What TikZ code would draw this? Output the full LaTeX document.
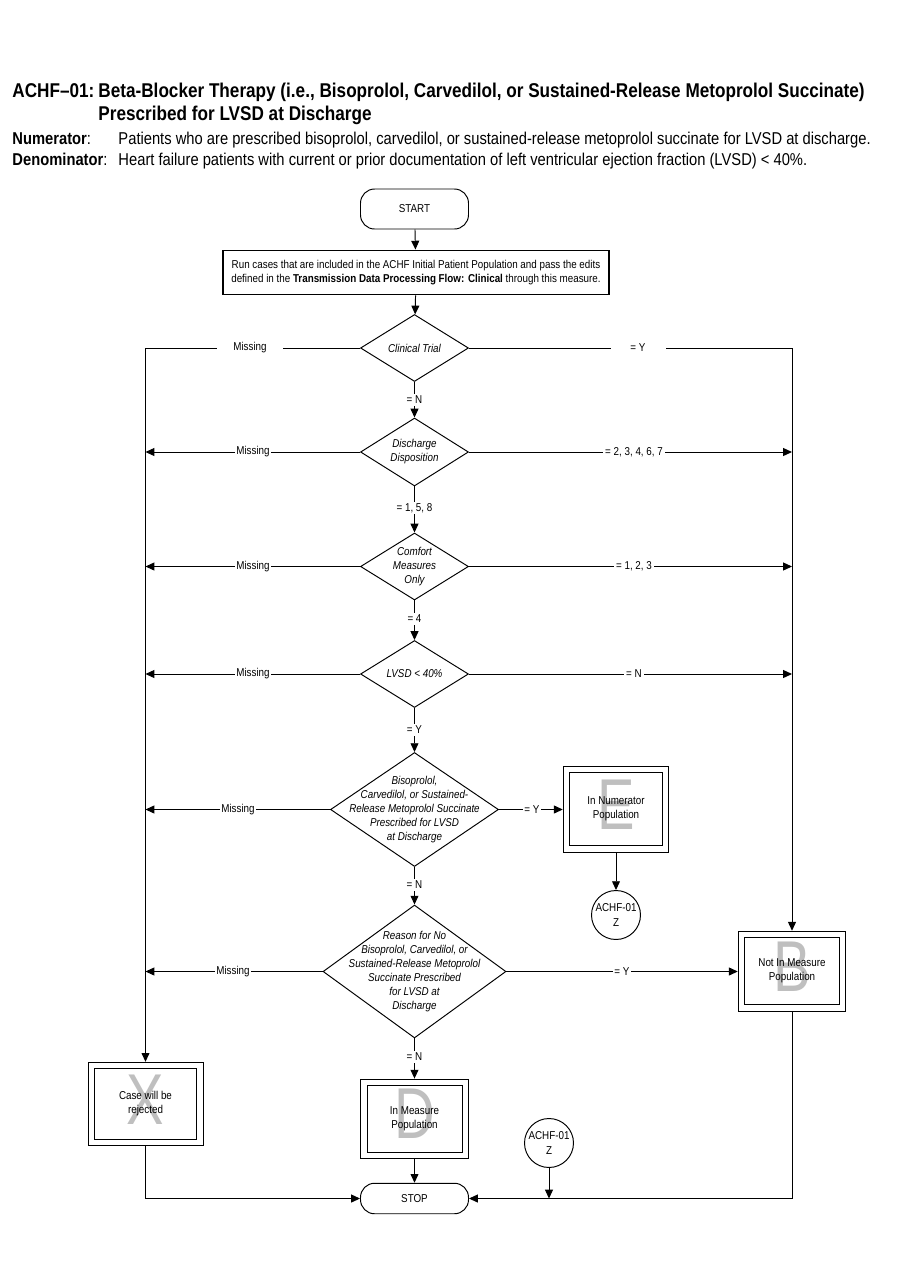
\documentclass[tikz,border=0pt]{standalone}
\usepackage{fontspec}
\setmainfont{Liberation Sans}[FakeStretch=0.86]
\newfontfamily\ghostfont{Liberation Sans}[FakeStretch=0.78]
\usetikzlibrary{arrows.meta,shapes.geometric}
\newcommand\dfont{\fontsize{6.5}{8}\selectfont}
\tikzset{
    >={Stealth[length=5pt,width=4.5pt,inset=0pt]},
    terminal/.style={draw,rounded corners=8pt,minimum width=2.16cm,minimum height=#1,inner sep=0pt,font=\dfont},
    process/.style={draw,line width=1.1pt,minimum width=7.72cm,minimum height=0.88cm,inner sep=0pt,align=center,font=\dfont},
    decision/.style 2 args={diamond,draw,minimum width=#1,minimum height=#2,inner sep=0pt},
    dtext/.style={align=center,inner sep=0pt,font=\dfont\itshape},
    result/.style 2 args={draw,minimum width=#1,minimum height=#2,inner sep=0pt,align=center,font=\dfont,
      path picture={\draw ([shift={(0.13cm,-0.13cm)}]path picture bounding box.north west) rectangle ([shift={(-0.13cm,0.13cm)}]path picture bounding box.south east);}},
    offpage/.style={circle,draw,minimum size=0.98cm,inner sep=0pt,align=center,font=\dfont},
    ghost/.style={text=black!25,inner sep=0pt,font=\ghostfont\fontsize{41}{41}\selectfont},
    lbl/.style={fill=white,inner xsep=1pt,inner ysep=1pt,font=\dfont},
    head/.style={anchor=base west,inner sep=0pt,font=\fontsize{11.35}{13}\selectfont\bfseries},
    defn/.style={anchor=base west,inner sep=0pt,font=\fontsize{9.75}{11}\selectfont}
}

\begin{document}
\begin{tikzpicture}[x=0.02cm,y=-0.02cm,line width=0.55pt]
  \useasboundingbox (0,0) rectangle (900,1286);

  % heading
  \node[head] (hcode)   at (12,97)   {ACHF–01:};
  \node[head] (htitle)  at (98,97)   {Beta-Blocker Therapy (i.e., Bisoprolol, Carvedilol, or Sustained-Release Metoprolol Succinate)};
  \node[head] (htitleb) at (98,120)  {Prescribed for LVSD at Discharge};
  \node[defn] (numlbl)  at (12,144)  {\textbf{Numerator}:};
  \node[defn] (numtxt)  at (118,144) {Patients who are prescribed bisoprolol, carvedilol, or sustained-release metoprolol succinate for LVSD at discharge.};
  \node[defn] (denlbl)  at (12,165)  {\textbf{Denominator}:};
  \node[defn] (dentxt)  at (118,165) {Heart failure patients with current or prior documentation of left ventricular ejection fraction (LVSD) < 40\%.};

  % main column
  \node[terminal=0.8cm] (start) at (414.5,209) {START};
  \node[process] (proc) at (416,272.5) {Run cases that are included in the ACHF Initial Patient Population and pass the edits\\defined in the \textbf{Transmission Data Processing Flow: Clinical} through this measure.} edge[<-] (start);
  \node[decision={2.16cm}{1.34cm},label={[dtext]center:Clinical Trial}] (ct) at (414.5,348) {} edge[<-] (proc);
  \node[decision={2.16cm}{1.36cm},label={[dtext]center:{Discharge\\Disposition}}] (dd) at (414.5,452) {} edge[<-] (ct);
  \node[decision={2.16cm}{1.34cm},label={[dtext]center:{Comfort\\Measures\\Only}}] (cm) at (414.5,566.5) {} edge[<-] (dd);
  \node[decision={2.16cm}{1.34cm},label={[dtext]center:{LVSD < 40\%}}] (lv) at (414.5,674) {} edge[<-] (cm);
  \node[decision={3.36cm}{2.28cm},label={[dtext]center:{Bisoprolol,\\Carvedilol, or Sustained-\\Release Metoprolol Succinate\\Prescribed for LVSD\\at Discharge}}] (bb) at (414.5,809.5) {} edge[<-] (lv);
  \node[decision={3.66cm}{2.66cm},label={[dtext]center:{Reason for No\\Bisoprolol, Carvedilol, or\\Sustained-Release Metoprolol\\Succinate Prescribed\\for LVSD at\\Discharge}}] (rs) at (414.5,971.5) {} edge[<-] (bb);

  % outcome boxes
  \node[ghost] (ge) at (616,805)     {E};
  \node[ghost] (gb) at (792,967)     {B};
  \node[ghost] (gx) at (145.5,1100)  {X};
  \node[ghost] (gd) at (414.5,1114)  {D};
  \node[result={2.11cm}{1.72cm}] (ebox) at (616,809.2)    {In Numerator\\Population};
  \node[result={2.15cm}{1.6cm}]  (bbox) at (792,971.2)    {Not In Measure\\Population};
  \node[result={2.3cm}{1.67cm}]  (xbox) at (145.5,1104)   {Case will be\\rejected};
  \node[result={2.16cm}{1.59cm}] (dbox) at (414.5,1118.8) {In Measure\\Population} edge[<-] (rs);
  \node[offpage] (zca) at (616,915)  {ACHF-01\\[1pt]Z} edge[<-] (ebox);
  \node[offpage] (zcb) at (549,1143) {ACHF-01\\[1pt]Z};
  \node[terminal=0.61cm] (stop) at (414.5,1198.5) {STOP} edge[<-] (dbox);

  % side lines
  \coordinate (lbus) at (145.5,348);
  \coordinate (rbus) at (792,348);
  \draw (ct.west) -- (lbus);
  \draw[->] (lbus) -- (xbox.north);
  \draw (ct.east) -- (rbus);
  \draw[->] (rbus) -- (bbox.north);
  \foreach \d in {dd,cm,lv,bb,rs}
    \draw[->] (\d.west) -- (\d.west -| lbus);
  \foreach \d in {dd,cm,lv}
    \draw[->] (\d.east) -- (\d.east -| rbus);
  \draw[->] (bb.east) -- (bb.east -| ebox.west);
  \draw[->] (rs.east) -- (rs.east -| bbox.west);
  \draw[->] (xbox.south) |- (stop.west);
  \draw[->] (bbox.south) |- (stop.east);
  \draw[->] (zcb) -- (zcb |- stop.east);

  % branch labels
  \node[lbl,inner xsep=0.32cm] (mct) at (250,348) {Missing};
  \node[lbl,inner xsep=0.4cm]  (yct) at (638,348) {= Y};
  \node[lbl] (nct) at (414.5,400)   {= N};
  \node[lbl] (mdd) at (253,452)     {Missing};
  \node[lbl] (ydd) at (634,452)     {= 2, 3, 4, 6, 7};
  \node[lbl] (ndd) at (414.5,508)   {= 1, 5, 8};
  \node[lbl] (mcm) at (253,566.5)   {Missing};
  \node[lbl] (ycm) at (634,566.5)   {= 1, 2, 3};
  \node[lbl] (ncm) at (414.5,619)   {= 4};
  \node[lbl] (mlv) at (253,674)     {Missing};
  \node[lbl] (nlv) at (634,674)     {= N};
  \node[lbl] (ylv) at (414.5,730)   {= Y};
  \node[lbl] (mbb) at (238,809.5)   {Missing};
  \node[lbl] (ybb) at (532,809.5)   {= Y};
  \node[lbl] (nbb) at (414.5,885)   {= N};
  \node[lbl] (mrs) at (233,971.5)   {Missing};
  \node[lbl] (yrs) at (622,971.5)   {= Y};
  \node[lbl] (nrs) at (414.5,1057)  {= N};
\end{tikzpicture}
\end{document}
